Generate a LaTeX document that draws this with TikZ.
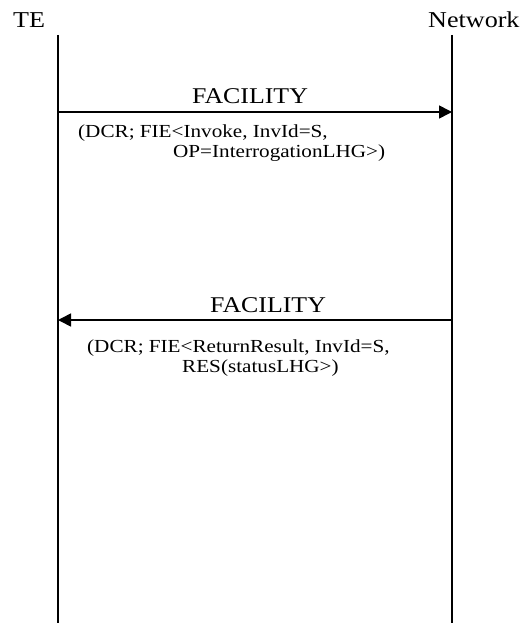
\documentclass[tikz,border=0pt]{standalone}
\usepackage{fontspec}
\setmainfont[FakeStretch=1.15]{Liberation Serif}
\usetikzlibrary{arrows.meta}
\begin{document}
\begin{tikzpicture}[x=1pt,y=-1pt,
  title/.style={anchor=base west,inner sep=0pt,font=\fontsize{22.7}{26}\selectfont},
  msg/.style={anchor=base,inner sep=0pt,font=\fontsize{22.5}{26}\selectfont},
  param/.style={anchor=base west,inner sep=0pt,font=\fontsize{18.4}{20}\selectfont,align=left},
  life/.style={line width=2pt},
  sig/.style={line width=1.6pt,-{Triangle[length=13pt,width=13pt]}}]
\useasboundingbox (0,0) rectangle (526,623);
\node[title] (te) at (13,28) {TE};
\node[title] (net) at (428,28) {Network};
\coordinate (teTop) at (58,35);
\coordinate (teBot) at (58,623);
\coordinate (netTop) at (452,35);
\coordinate (netBot) at (452,623);
\draw[life] (teTop) -- (teBot);
\draw[life] (netTop) -- (netBot);
\coordinate (a1s) at (58,112);
\coordinate (a1e) at (452,112);
\draw[sig] (a1s) -- (a1e);
\node[msg] (m1) at (250,103) {FACILITY};
\node[param] (p1a) at (78,137) {(DCR; FIE<Invoke, InvId=S,};
\node[param] (p1b) at (173,157) {OP=InterrogationLHG>)};
\coordinate (a2s) at (452,320);
\coordinate (a2e) at (58,320);
\draw[sig] (a2s) -- (a2e);
\node[msg] (m2) at (268,312) {FACILITY};
\node[param] (p2a) at (87,352) {(DCR; FIE<ReturnResult, InvId=S,};
\node[param] (p2b) at (182,372) {RES(statusLHG>)};
\end{tikzpicture}
\end{document}
